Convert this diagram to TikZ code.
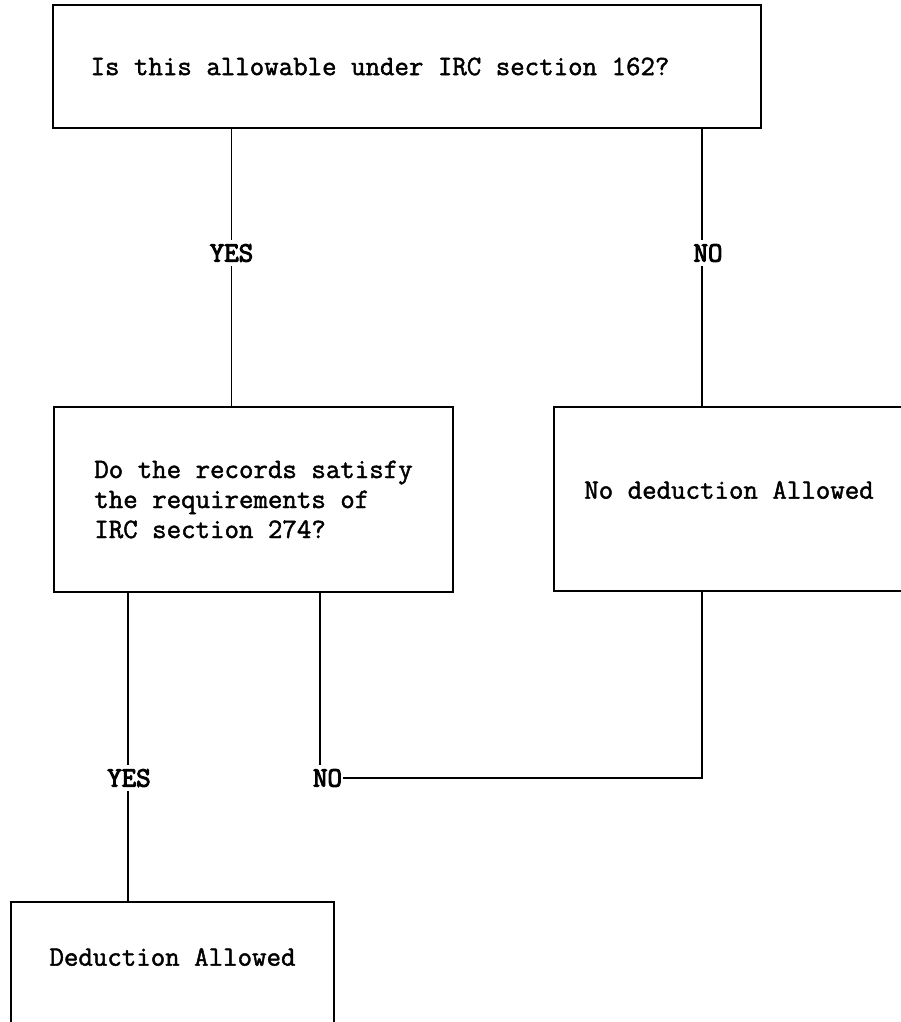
\documentclass[tikz,border=0pt]{standalone}
\usepackage{fontspec}
\newfontfamily\bodyfont[FakeBold=1.6]{Latin Modern Mono}
\newfontfamily\lblfont[FakeBold=3.5]{Latin Modern Mono}
\begin{document}
\begin{tikzpicture}[x=1pt,y=-1pt,
  box/.style={draw, line width=1.5pt, rectangle, inner sep=0pt,
    font=\bodyfont\fontsize{28.1}{30}\selectfont, align=left},
  lbl/.style={fill=white, inner xsep=1pt, inner ysep=4pt,
    font=\lblfont\fontsize{28.1}{30}\selectfont},
  conn/.style={line width=1.5pt}]
\useasboundingbox (0,0) rectangle (901,1022);
\clip (0,0) rectangle (901,1022);

\node[box, minimum width=708pt, minimum height=123pt] (q1) at (407,66.5)
  {Is this allowable under IRC section 162?\hspace{54pt}};
\node[box, minimum width=399pt, minimum height=185pt] (q2) at (253.5,499.5)
  {Do the records satisfy\\the requirements of\\IRC section 274?};
\node[box, minimum width=350pt, minimum height=184pt] (r) at (729,499)
  {\raisebox{9pt}[\height][\depth]{No deduction Allowed}};
\node[box, minimum width=323pt, minimum height=140pt] (d) at (172.5,972)
  {\raisebox{15pt}[\height][\depth]{Deduction Allowed}};

\coordinate (k1) at (231.5,253);
\coordinate (k2) at (702,253);
\coordinate (k3) at (128,778);
\coordinate (k4) at (320,778);
\coordinate (k5) at (702,778);

\draw[conn] (k1 |- q1.south) -- (k1 |- q2.north);
\draw[conn] (k2 |- q1.south) -- (k2 |- r.north);
\draw[conn] (k3 |- q2.south) -- (k3 |- d.north);
\draw[conn] (k4 |- q2.south) -- (k4) -- (k5) -- (k5 |- r.south);

\node[lbl] (yes1) at (k1) {YES};
\node[lbl] (no1) at ([xshift=6pt]k2) {NO};
\node[lbl] (yes2) at ([xshift=1pt]k3) {YES};
\node[lbl] (no2) at ([xshift=7.5pt]k4) {NO};
\end{tikzpicture}
\end{document}
